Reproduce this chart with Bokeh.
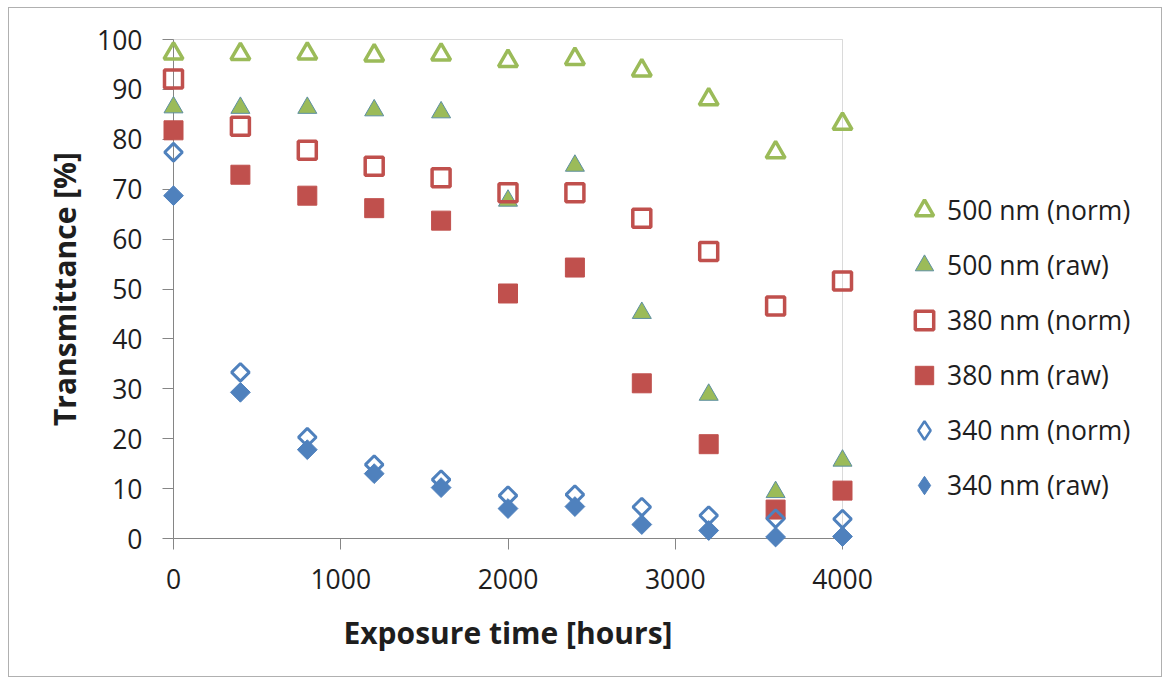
from bokeh.plotting import figure
from bokeh.models import (Range1d, FixedTicker, Legend, LegendItem, ColumnDataSource,
                          BoxAnnotation)
from bokeh.embed import file_html
from bokeh.resources import INLINE
import math

hours = [0, 400, 800, 1200, 1600, 2000, 2400, 2800, 3200, 3600, 4000]
t500_norm = [97.2, 97.1, 97.2, 96.8, 97.0, 95.7, 96.1, 93.8, 88.0, 77.4, 83.1]
t500_raw = [86.4, 86.3, 86.3, 85.8, 85.4, 67.7, 74.7, 45.2, 28.8, 9.3, 15.6]
t380_norm = [92.1, 82.6, 77.8, 74.6, 72.3, 69.3, 69.3, 64.2, 57.5, 46.6, 51.6]
t380_raw = [81.8, 72.9, 68.7, 66.2, 63.7, 49.1, 54.3, 31.1, 18.9, 5.8, 9.6]
t340_norm = [77.4, 33.3, 20.3, 14.8, 11.8, 8.6, 8.8, 6.3, 4.6, 4.0, 3.9]
t340_raw = [68.7, 29.3, 17.8, 13.0, 10.2, 6.0, 6.4, 2.8, 1.6, 0.3, 0.4]

labels = ["500 nm (norm)", "500 nm (raw)", "380 nm (norm)", "380 nm (raw)",
          "340 nm (norm)", "340 nm (raw)"]
x_ticks = [0, 1000, 2000, 3000, 4000]
y_ticks = [0, 10, 20, 30, 40, 50, 60, 70, 80, 90, 100]
x_axis_bounds = (0, 4000)
y_axis_bounds = (0, 100)

GREEN = "#9BBB59"
RED = "#C0504D"
BLUE = "#4F81BD"
AXIS = "#868686"
TEXT = "#1e1e1e"
FONT = "Open Sans"

# the frame fills the whole chart; axes sit at fixed data locations inside it
PX_X = 669 / 4000.0   # pixels per hour
PX_Y = 499 / 100.0    # pixels per percent
FL, FR, FT, FB = 9, 1161, 8, 676     # frame edges on the page
ORIGIN_X, ORIGIN_Y = 173, 538        # page position of (0, 0)
x_lo = -(ORIGIN_X - FL) / PX_X
x_hi = (FR - ORIGIN_X) / PX_X
y_lo = -(FB - ORIGIN_Y) / PX_Y
y_hi = (ORIGIN_Y - FT) / PX_Y

p = figure(frame_width=FR - FL, frame_height=FB - FT,
           x_range=Range1d(x_lo, x_hi), y_range=Range1d(y_lo, y_hi),
           output_backend="svg", toolbar_location=None,
           min_border_left=0, min_border_right=0,
           min_border_top=0, min_border_bottom=0)
p.styles = {"margin-left": "8px", "margin-top": "7px", "border": "1px solid #b0b0b0"}
p.background_fill_color = "white"
p.border_fill_color = "white"
p.outline_line_color = None
p.xgrid.visible = False
p.ygrid.visible = False

for ax in (p.xaxis[0], p.yaxis[0]):
    ax.axis_line_color = AXIS
    ax.major_tick_line_color = AXIS
    ax.minor_tick_line_color = None
    ax.major_tick_in = 0
    ax.major_tick_out = 11
    ax.major_label_text_font = FONT
    ax.major_label_text_font_size = "26.5px"
    ax.major_label_text_color = TEXT
    ax.axis_label_text_font = FONT
    ax.axis_label_text_font_size = "30px"
    ax.axis_label_text_font_style = "bold"
    ax.axis_label_text_color = TEXT
    ax.fixed_location = 0
    ax.level = "underlay"

p.xaxis.ticker = FixedTicker(ticks=x_ticks)
p.yaxis.ticker = FixedTicker(ticks=y_ticks)
p.xaxis.bounds = x_axis_bounds
p.yaxis.bounds = y_axis_bounds
p.xaxis.axis_label = "Exposure time [hours]"
p.yaxis.axis_label = "Transmittance [%]"
p.xaxis.major_label_standoff = 19
p.yaxis.major_label_standoff = 20
p.xaxis.axis_label_standoff = 20
p.yaxis.axis_label_standoff = 9

# plot-area box (top and right edges)
p.add_layout(BoxAnnotation(left=x_axis_bounds[0], right=x_axis_bounds[1],
                           bottom=y_axis_bounds[0], top=y_axis_bounds[1],
                           fill_alpha=0, line_color=AXIS, line_width=1,
                           level="underlay"))

src = ColumnDataSource(dict(x=hours, a=t500_norm, b=t500_raw, c=t380_norm,
                            d=t380_raw, e=t340_norm, f=t340_raw))

r1 = p.scatter("x", "a", source=src, marker="triangle", size=19,
               fill_color=None, line_color=GREEN, line_width=3.5)
r2 = p.scatter("x", "b", source=src, marker="triangle", size=19,
               fill_color=GREEN, line_color="#5d8fa0", line_width=1)
r3 = p.scatter("x", "c", source=src, marker="square", size=18,
               fill_color=None, line_color=RED, line_width=3.5)
r4 = p.scatter("x", "d", source=src, marker="square", size=19,
               fill_color=RED, line_color=RED, line_width=1)
r5 = p.scatter("x", "e", source=src, marker="square", size=12.5, angle=math.pi / 4,
               fill_color=None, line_color=BLUE, line_width=3)
r6 = p.scatter("x", "f", source=src, marker="square", size=14, angle=math.pi / 4,
               fill_color=BLUE, line_color=BLUE, line_width=1)

# legend-only proxies for the diamond symbols (legend glyphs ignore marker angle)
proxy = ColumnDataSource(dict(x=[float("nan")], y=[float("nan")]))
l5 = p.scatter("x", "y", source=proxy, marker="diamond", size=20,
               fill_color=None, line_color=BLUE, line_width=2.5)
l6 = p.scatter("x", "y", source=proxy, marker="diamond", size=20,
               fill_color=BLUE, line_color=BLUE, line_width=1)

items = [LegendItem(label=labels[0], renderers=[r1]),
         LegendItem(label=labels[1], renderers=[r2]),
         LegendItem(label=labels[2], renderers=[r3]),
         LegendItem(label=labels[3], renderers=[r4]),
         LegendItem(label=labels[4], renderers=[l5]),
         LegendItem(label=labels[5], renderers=[l6])]
legend = Legend(items=items, location=(901 - FL, FB - 510), glyph_width=46,
                glyph_height=50, spacing=5, padding=0, margin=0, label_standoff=0,
                label_text_font=FONT, label_text_font_size="26.5px",
                label_text_color=TEXT, border_line_color=None,
                background_fill_alpha=0)
p.add_layout(legend, "center")

open("out.html", "w").write(file_html(p, INLINE))
